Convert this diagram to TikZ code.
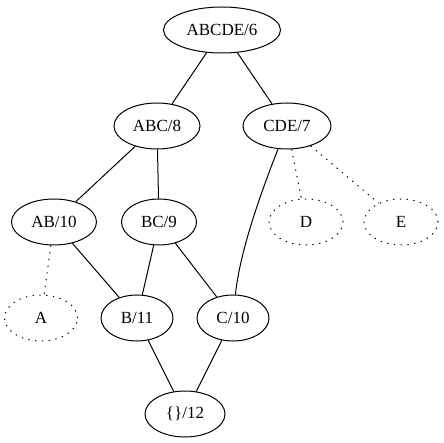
\documentclass[tikz,border=0pt]{standalone}
\usepackage{fontspec}
\setmainfont{Liberation Serif}
\usetikzlibrary{shapes.geometric}

\tikzset{
  concept/.style={ellipse, draw, line width=1pt, inner sep=0pt,
    minimum height=46pt, font=\fontsize{17}{20}\selectfont},
  attr/.style={concept, dash pattern=on 1.3pt off 5.5pt},
  hidden/.style={line width=1pt, dash pattern=on 1.3pt off 5.5pt}
}

\begin{document}
\begin{tikzpicture}[x=1pt, y=-1pt, line width=1pt]

\useasboundingbox (0,0) rectangle (444,443);

% Concepts
\node[concept, minimum width=117pt] (abcde) at (222,30) {ABCDE/6};
\node[concept, minimum width=86pt] (abc) at (157,126) {ABC/8};
\node[concept, minimum width=88pt] (cde) at (287,126) {CDE/7};
\node[concept, minimum width=85pt] (ab) at (54,222) {AB/10};
\node[concept, minimum width=75pt] (bc) at (159,222) {BC/9};
\node[concept, minimum width=72pt] (b) at (137,318) {B/11};
\node[concept, minimum width=72pt] (c) at (233,318) {C/10};
\node[concept, minimum width=80pt] (bot) at (185,414) {\{\}/12};

% Attributes
\node[attr, minimum width=74pt] (d) at (306,222) {D};
\node[attr, minimum width=74pt] (e) at (401,222) {E};
\node[attr, minimum width=73pt] (a) at (41,318) {A};

% Order
\draw (abcde) -- (abc);
\draw (abcde) -- (cde);
\draw (abc) -- (ab);
\draw (abc) -- (bc);
\draw (cde) .. controls (262,190) and (240,250) .. (c);
\draw (ab) -- (b);
\draw (bc) -- (b);
\draw (bc) -- (c);
\draw (b) -- (bot);
\draw (c) -- (bot);

% Labels
\draw[hidden] (cde) -- (d);
\draw[hidden] (cde) -- (e);
\draw[hidden] (ab) -- (a);

\end{tikzpicture}
\end{document}
